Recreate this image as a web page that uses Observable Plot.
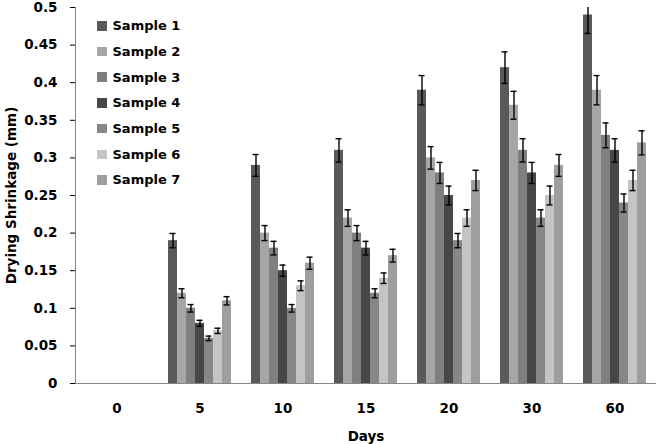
<!DOCTYPE html>
<html>
<head>
<meta charset="utf-8">
<script src="https://cdn.jsdelivr.net/npm/d3@7"></script>
<script src="https://cdn.jsdelivr.net/npm/@observablehq/plot@0.6"></script>
<style>
  html, body { margin: 0; padding: 0; background: #fff; }
  #wrap { position: relative; width: 660px; height: 444px; font-family: "DejaVu Sans", sans-serif; font-weight: bold; font-size: 13px; }
  #legend { position: absolute; left: 97px; top: 13px; }
  .item { display: flex; align-items: center; height: 25.7px; }
  .sw { width: 9.5px; height: 9.5px; margin-right: 6px; }
  svg [aria-label="y-axis tick"] { stroke: #868686; }
</style>
</head>
<body>
<div id="wrap"><div id="chart"></div><div id="legend"></div></div>
<script>
const days = ["0", "5", "10", "15", "20", "30", "60"];
const samples = ["Sample 1", "Sample 2", "Sample 3", "Sample 4", "Sample 5", "Sample 6", "Sample 7"];
const colors = ["#595959", "#a6a6a6", "#7f7f7f", "#474747", "#878787", "#c4c4c4", "#9e9e9e"];
// values per sample, by day
const s1 = [0, 0.19, 0.29, 0.31, 0.39, 0.42, 0.49];
const s2 = [0, 0.12, 0.20, 0.22, 0.30, 0.37, 0.39];
const s3 = [0, 0.10, 0.18, 0.20, 0.28, 0.31, 0.33];
const s4 = [0, 0.08, 0.15, 0.18, 0.25, 0.28, 0.31];
const s5 = [0, 0.06, 0.10, 0.12, 0.19, 0.22, 0.24];
const s6 = [0, 0.07, 0.13, 0.14, 0.22, 0.25, 0.27];
const s7 = [0, 0.11, 0.16, 0.17, 0.27, 0.29, 0.32];
// error bar half-widths per sample, by day
const e1 = [0, 0.0095, 0.0145, 0.0155, 0.0195, 0.021, 0.0245];
const e2 = [0, 0.006, 0.010, 0.011, 0.015, 0.0185, 0.0195];
const e3 = [0, 0.005, 0.009, 0.010, 0.014, 0.0155, 0.0165];
const e4 = [0, 0.004, 0.0075, 0.009, 0.0125, 0.014, 0.0155];
const e5 = [0, 0.003, 0.005, 0.006, 0.0095, 0.011, 0.012];
const e6 = [0, 0.0035, 0.0065, 0.007, 0.011, 0.0125, 0.0135];
const e7 = [0, 0.0055, 0.008, 0.0085, 0.0135, 0.0145, 0.016];
const yTicks = [0, 0.05, 0.1, 0.15, 0.2, 0.25, 0.3, 0.35, 0.4, 0.45, 0.5];
const yTickLabels = ["0", "0.05", "0.1", "0.15", "0.2", "0.25", "0.3", "0.35", "0.4", "0.45", "0.5"];

const series = [s1, s2, s3, s4, s5, s6, s7];
const errs = [e1, e2, e3, e4, e5, e6, e7];
const data = [];
days.forEach((d, j) => samples.forEach((s, i) => {
  data.push({day: d, sample: s, value: series[i][j], err: errs[i][j]});
}));
const errData = data.filter(r => r.value > 0);

const chart = Plot.plot({
  width: 660,
  height: 444,
  marginLeft: 72,
  marginRight: 2,
  marginTop: 7,
  marginBottom: 61,
  style: {fontFamily: "DejaVu Sans, sans-serif", fontSize: "13px", fontWeight: "bold", color: "#000", background: "#fff"},
  fx: {domain: days, padding: 0},
  x: {domain: samples, paddingInner: 0, paddingOuter: 0.745, axis: null},
  y: {domain: [0, 0.5]},
  color: {domain: samples, range: colors},
  marks: [
    Plot.barY(data, {fx: "day", x: "sample", y: "value", fill: "sample"}),
    Plot.ruleX(errData, {fx: "day", x: "sample", y1: d => d.value - d.err, y2: d => d.value + d.err, stroke: "#000", strokeWidth: 1.4, clip: true}),
    Plot.tickY(errData, {fx: "day", x: "sample", y: d => d.value - d.err, stroke: "#000", strokeWidth: 1.4, insetLeft: 1.5, insetRight: 1.5, clip: true}),
    Plot.tickY(errData, {fx: "day", x: "sample", y: d => d.value + d.err, stroke: "#000", strokeWidth: 1.4, insetLeft: 1.5, insetRight: 1.5, clip: true}),
    Plot.ruleY([0], {stroke: "#868686", strokeWidth: 1}),
    Plot.frame({anchor: "left", facetAnchor: "left", stroke: "#868686", strokeWidth: 1}),
    Plot.axisY({ticks: yTicks, tickFormat: (d) => yTickLabels[yTicks.indexOf(d)], tickSize: 5, tickPadding: 13, fontSize: 13.5,
      label: "Drying Shrinkage (mm)", labelAnchor: "center", labelOffset: 69, labelArrow: false}),
    Plot.axisFx({anchor: "bottom", tickSize: 0, tickPadding: 20, fontSize: 13.5, label: "Days", labelAnchor: "center", labelOffset: 57, labelArrow: false})
  ]
});
document.getElementById("chart").appendChild(chart);

const legend = document.getElementById("legend");
samples.forEach((s, i) => {
  const it = document.createElement("div");
  it.className = "item";
  const sw = document.createElement("div");
  sw.className = "sw";
  sw.style.background = colors[i];
  const t = document.createElement("span");
  t.textContent = s;
  it.appendChild(sw); it.appendChild(t);
  legend.appendChild(it);
});
</script>
</body>
</html>
